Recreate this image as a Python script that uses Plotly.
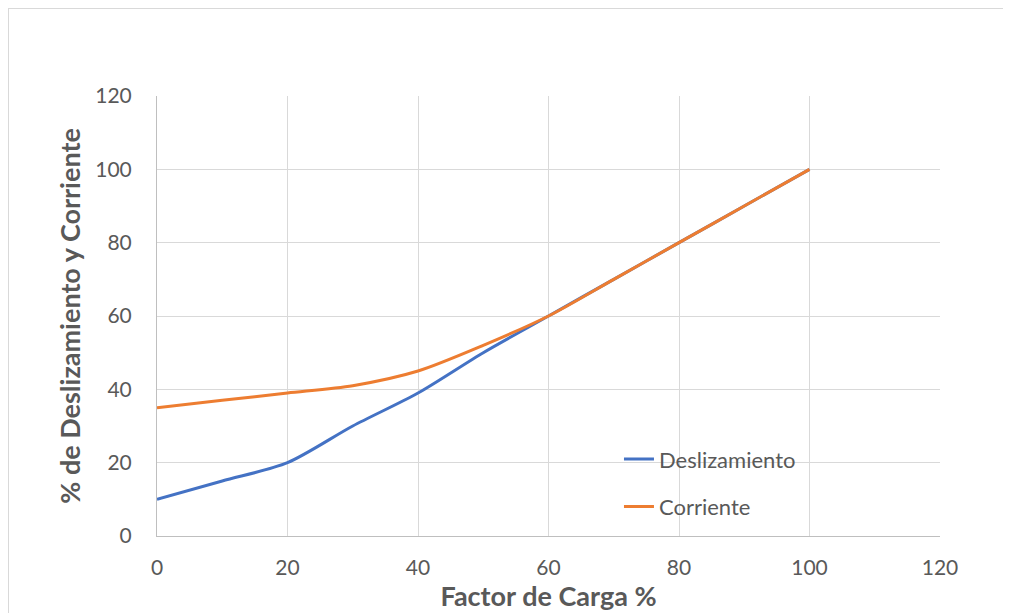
import plotly.graph_objects as go

factor_carga = [0, 10, 20, 30, 40, 50, 60, 70, 80, 90, 100]
deslizamiento = [10, 15, 20, 30, 39, 50, 60, 70, 80, 90, 100]
corriente = [35, 37, 39, 41, 45, 52, 60, 70, 80, 90, 100]

x_ticks = [0, 20, 40, 60, 80, 100, 120]
y_ticks = [0, 20, 40, 60, 80, 100, 120]

font_family = "Lato, Open Sans, sans-serif"
gray = "#595959"

fig = go.Figure()
fig.add_trace(go.Scatter(
    x=factor_carga, y=deslizamiento, name="Deslizamiento", mode="lines",
    line=dict(color="#4472C4", width=3, shape="spline", smoothing=0.8),
    legendgroup="a",
))
fig.add_trace(go.Scatter(
    x=factor_carga, y=corriente, name="Corriente", mode="lines",
    line=dict(color="#ED7D31", width=3, shape="spline", smoothing=0.8),
    legendgroup="b",
))

fig.update_layout(
    width=1011, height=613,
    margin=dict(l=149, r=79, t=88, b=85),
    paper_bgcolor="white", plot_bgcolor="white",
    font=dict(family=font_family, color=gray, size=20),
    legend=dict(
        x=0.59, y=0.12, xanchor="left", yanchor="middle",
        bgcolor="rgba(0,0,0,0)", font=dict(size=22, color=gray),
        tracegroupgap=16,
    ),
    xaxis=dict(
        range=[0, 120], tickvals=x_ticks, showgrid=True, gridcolor="#d9d9d9",
        gridwidth=1, showline=True, linecolor="#bfbfbf", linewidth=1,
        zeroline=False, ticks="", tickfont=dict(size=21, color=gray),
        ticklabelstandoff=13,
        title=dict(text="<b>Factor de Carga %</b>", font=dict(size=27, color=gray), standoff=4),
    ),
    yaxis=dict(
        range=[0, 120], tickvals=y_ticks, showgrid=True, gridcolor="#d9d9d9",
        gridwidth=1, showline=True, linecolor="#bfbfbf", linewidth=1,
        zeroline=False, ticks="", tickfont=dict(size=21, color=gray),
        ticklabelstandoff=20,
        title=dict(text="<b>% de Deslizamiento y Corriente</b>", font=dict(size=27, color=gray), standoff=6),
    ),
    shapes=[
        dict(type="line", xref="paper", yref="paper",
             x0=(0 - 149) / 783, x1=(1011 - 149) / 783,
             y0=(528 - 0.5) / 440, y1=(528 - 0.5) / 440,
             line=dict(color="#d9d9d9", width=1)),
        dict(type="line", xref="paper", yref="paper",
             x0=(0.5 - 149) / 783, x1=(0.5 - 149) / 783,
             y0=(528 - 0.5) / 440, y1=(528 - 613) / 440,
             line=dict(color="#d9d9d9", width=1)),
    ],
)

fig.write_html("out.html")
